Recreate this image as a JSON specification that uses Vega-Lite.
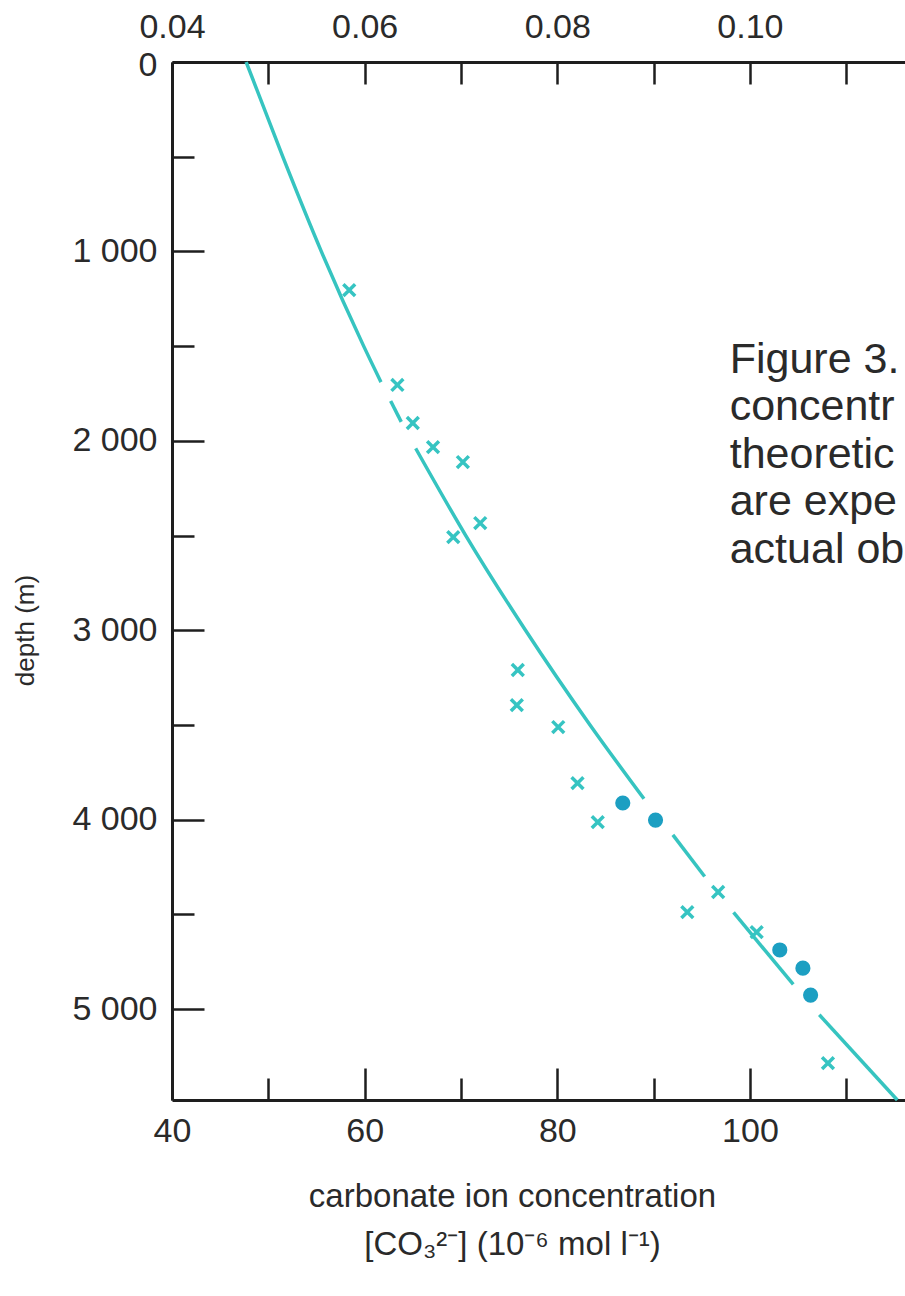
{
  "$schema": "https://vega.github.io/schema/vega-lite/v6.json",
  "width": 733,
  "height": 1038,
  "autosize": "none",
  "padding": {"left": 172, "top": 62, "right": 0, "bottom": 196},
  "background": "white",
  "config": {
    "view": {"stroke": null},
    "axis": {
      "grid": false,
      "domainColor": "#1e1e1e",
      "domainWidth": 3,
      "tickColor": "#1e1e1e",
      "tickWidth": 2.5,
      "labelFont": "Liberation Sans",
      "labelFontSize": 34,
      "labelColor": "#2a2a2a",
      "labelFlush": false,
      "labelOverlap": false,
      "labelBound": false,
      "titleFont": "Liberation Sans",
      "titleColor": "#2a2a2a",
      "titleFontWeight": "normal"
    }
  },
  "datasets": {
    "curve": [
      {"seg": 1, "depth": 0, "conc": 47.7},
      {"seg": 1, "depth": 500, "conc": 51.5},
      {"seg": 1, "depth": 1000, "conc": 55.5},
      {"seg": 1, "depth": 1500, "conc": 59.9},
      {"seg": 1, "depth": 1690, "conc": 61.7},
      {"seg": 2, "depth": 1790, "conc": 62.7},
      {"seg": 2, "depth": 1900, "conc": 63.8},
      {"seg": 3, "depth": 2040, "conc": 65.3},
      {"seg": 3, "depth": 2500, "conc": 70.5},
      {"seg": 3, "depth": 3000, "conc": 76.7},
      {"seg": 3, "depth": 3500, "conc": 83.4},
      {"seg": 3, "depth": 3890, "conc": 89.0},
      {"seg": 4, "depth": 4080, "conc": 92.0},
      {"seg": 4, "depth": 4300, "conc": 95.3},
      {"seg": 5, "depth": 4490, "conc": 98.3},
      {"seg": 5, "depth": 4870, "conc": 104.5},
      {"seg": 6, "depth": 5030, "conc": 107.2},
      {"seg": 6, "depth": 5480, "conc": 115.3}
    ],
    "obs": [
      {"kind": "cross", "depth": 1204, "conc": 58.4},
      {"kind": "cross", "depth": 1705, "conc": 63.4},
      {"kind": "cross", "depth": 1906, "conc": 65.0},
      {"kind": "cross", "depth": 2033, "conc": 67.1},
      {"kind": "cross", "depth": 2112, "conc": 70.2},
      {"kind": "cross", "depth": 2434, "conc": 72.0},
      {"kind": "cross", "depth": 2508, "conc": 69.2},
      {"kind": "cross", "depth": 3210, "conc": 75.9},
      {"kind": "cross", "depth": 3395, "conc": 75.8},
      {"kind": "cross", "depth": 3511, "conc": 80.1},
      {"kind": "cross", "depth": 3807, "conc": 82.1},
      {"kind": "cross", "depth": 4013, "conc": 84.2},
      {"kind": "cross", "depth": 4382, "conc": 96.7},
      {"kind": "cross", "depth": 4488, "conc": 93.5},
      {"kind": "cross", "depth": 4594, "conc": 100.7},
      {"kind": "cross", "depth": 5285, "conc": 108.1},
      {"kind": "circle", "depth": 3912, "conc": 86.8},
      {"kind": "circle", "depth": 4002, "conc": 90.2},
      {"kind": "circle", "depth": 4688, "conc": 103.1},
      {"kind": "circle", "depth": 4784, "conc": 105.5},
      {"kind": "circle", "depth": 4926, "conc": 106.3}
    ]
  },
  "layer": [
    {
      "data": {"name": "curve"},
      "mark": {"type": "line", "color": "#36c4c0", "strokeWidth": 3.5, "interpolate": "monotone"},
      "encoding": {
        "x": {
          "field": "conc", "type": "quantitative",
          "scale": {"domain": [40, 116.1], "nice": false, "zero": false},
          "axis": {
            "orient": "bottom",
            "values": [40, 50, 60, 70, 80, 90, 100, 110],
            "labelExpr": "datum.value % 20 === 0 ? datum.value : ''",
            "tickSize": {"condition": {"test": "datum.value % 20 === 0", "value": -32}, "value": -22},
            "labelPadding": 46,
            "title": ["carbonate ion concentration", "[CO₃²⁻] (10⁻⁶ mol l⁻¹)"],
            "titleFontSize": 33,
            "titleLineHeight": 48,
            "titleX": 340,
            "titleY": 80,
            "titleAlign": "center",
            "titleBaseline": "top"
          }
        },
        "y": {
          "field": "depth", "type": "quantitative",
          "scale": {"domain": [0, 5480], "reverse": true, "nice": false, "zero": false},
          "axis": {
            "values": [0, 500, 1000, 1500, 2000, 2500, 3000, 3500, 4000, 4500, 5000],
            "labelExpr": "datum.value === 0 ? '0' : (datum.value % 1000 === 0 ? floor(datum.value / 1000) + ' 000' : '')",
            "tickSize": {"condition": {"test": "datum.value % 1000 === 0", "value": -32}, "value": -22},
            "labelPadding": 47,
            "labelOffset": {"condition": {"test": "datum.value === 0", "value": 3}, "value": 0},
            "title": "depth (m)",
            "titleFontSize": 26,
            "titleAngle": 270,
            "titleX": -147,
            "titleY": 568,
            "titleAlign": "center",
            "titleBaseline": "middle"
          }
        },
        "detail": {"field": "seg", "type": "nominal"},
        "order": {"field": "depth", "type": "quantitative"}
      }
    },
    {
      "data": {"name": "obs"},
      "transform": [{"filter": "datum.kind === 'cross'"}],
      "mark": {"type": "point", "shape": "M-1,-1L1,1M-1,1L1,-1", "filled": false, "strokeWidth": 3.5, "color": "#36c4c2", "opacity": 1, "size": 140},
      "encoding": {
        "x": {
          "field": "conc", "type": "quantitative",
          "scale": {"domain": [40, 116.1], "nice": false, "zero": false},
          "axis": {
            "orient": "top",
            "values": [40, 50, 60, 70, 80, 90, 100, 110],
            "labelExpr": "datum.value % 20 === 0 ? format(datum.value / 1000, '.2f') : ''",
            "tickSize": -22,
            "labelPadding": 40,
            "title": null
          }
        },
        "y": {"field": "depth", "type": "quantitative", "title": "depth (m)",
          "scale": {"domain": [0, 5480], "reverse": true, "nice": false, "zero": false}}
      }
    },
    {
      "data": {"name": "obs"},
      "transform": [{"filter": "datum.kind === 'circle'"}],
      "mark": {"type": "circle", "color": "#1c9fc2", "opacity": 1, "size": 230},
      "encoding": {
        "x": {"field": "conc", "type": "quantitative", "axis": null,
          "scale": {"domain": [40, 116.1], "nice": false, "zero": false}},
        "y": {"field": "depth", "type": "quantitative", "title": "depth (m)",
          "scale": {"domain": [0, 5480], "reverse": true, "nice": false, "zero": false}}
      }
    },
    {
      "data": {"values": [{}]},
      "mark": {
        "type": "text",
        "text": ["Figure 3.", "concentr", "theoretic", "are expe", "actual ob"],
        "font": "Liberation Sans",
        "fontSize": 43,
        "lineHeight": 47.5,
        "align": "left",
        "baseline": "alphabetic",
        "color": "#2a2a2a"
      },
      "encoding": {
        "x": {"datum": 97.9, "type": "quantitative", "axis": null,
          "scale": {"domain": [40, 116.1], "nice": false, "zero": false}},
        "y": {"datum": 1640, "type": "quantitative", "title": "depth (m)",
          "scale": {"domain": [0, 5480], "reverse": true, "nice": false, "zero": false}}
      }
    }
  ],
  "resolve": {"axis": {"x": "independent"}}
}
